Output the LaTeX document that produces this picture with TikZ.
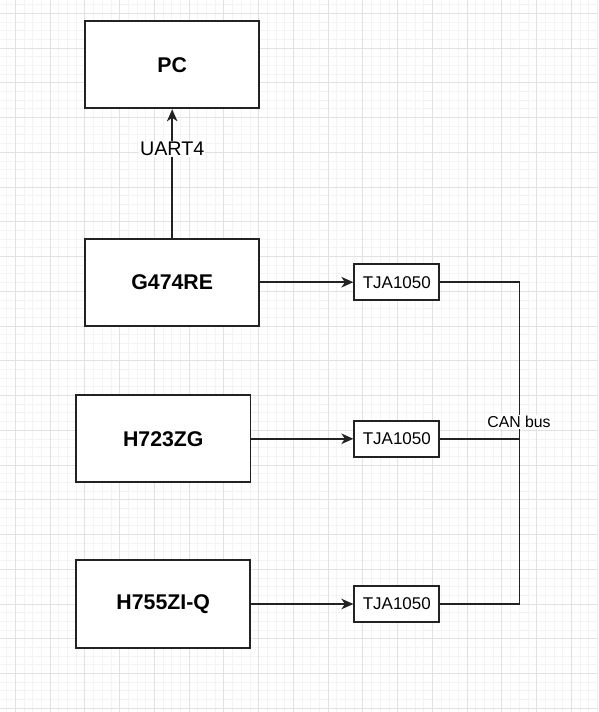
\documentclass[tikz,border=0pt]{standalone}
\usepackage{fontspec}
\setmainfont{Liberation Sans}
\usetikzlibrary{arrows.meta}
\definecolor{edgecol}{HTML}{222222}
\definecolor{minorgrid}{HTML}{F3F3F3}
\definecolor{majorgrid}{HTML}{E2E2E2}
\tikzset{
  mcu/.style={draw=edgecol, line width=1.9pt, fill=white, minimum width=174.3pt, minimum height=87.3pt, inner sep=0pt, font=\fontsize{21.3}{25}\selectfont\bfseries, text=black},
  xcvr/.style={draw=edgecol, line width=1.8pt, fill=white, minimum width=85pt, minimum height=35.7pt, inner sep=0pt, font=\fontsize{17}{20}\selectfont, text=black},
  link/.style={draw=edgecol, line width=1.9pt},
  arr/.style={link, -{Stealth[length=12pt, width=10.5pt, inset=3.5pt]}},
  lbl/.style={fill=white, inner sep=1pt, text=black},
  minorline/.style={draw=minorgrid, line width=0.7pt},
  majorline/.style={draw=majorgrid, line width=0.9pt}
}
\begin{document}
\begin{tikzpicture}[x=1pt, y=-1pt]
\useasboundingbox (0,0) rectangle (598,712);
\fill[white] (0,0) rectangle (598,712);
% grid
\foreach \i in {0,...,69} {
  \draw[minorline] ({6.6+8.6875*\i},0) -- ({6.6+8.6875*\i},712);
}
\foreach \i in {0,...,82} {
  \draw[minorline] (0,{4.5+8.6875*\i}) -- (598,{4.5+8.6875*\i});
}
\foreach \i in {0,...,17} {
  \draw[majorline] ({15.3+34.75*\i},0) -- ({15.3+34.75*\i},712);
}
\foreach \i in {0,...,20} {
  \draw[majorline] (0,{13.2+34.75*\i}) -- (598,{13.2+34.75*\i});
}
% boxes
\node[mcu] (pc) at (172.2,64.7) {PC};
\node[mcu] (g474) at (172.2,282.2) {G474RE};
\node[mcu] (h723) at (163.3,438.7) {H723ZG};
\node[mcu] (h755) at (163.2,604) {H755ZI-Q};
\node[xcvr] (t1) at (396.8,282.2) {TJA1050};
\node[xcvr] (t2) at (396.8,438.8) {TJA1050};
\node[xcvr] (t3) at (396.8,604) {TJA1050};
\coordinate (bustop) at (519.5,282.2);
\coordinate (busbot) at (519.5,604);
% connectors
\draw[arr] (g474.north) -- node[lbl, pos=0.69, font=\fontsize{19.7}{23}\selectfont] (uart) {UART4} (pc.south);
\draw[arr] (g474.east) -- (t1.west);
\draw[arr] (h723.east |- t2.west) -- (t2.west);
\draw[arr] (h755.east) -- (t3.west);
\draw[link] (t1.east) -- (bustop) -- (busbot) -- (t3.east);
\draw[link] (t2.east) -- (t2.east -| bustop);
\node[lbl, font=\fontsize{15.8}{19}\selectfont] (canbus) at (519,421.7) {CAN bus};
\end{tikzpicture}
\end{document}
